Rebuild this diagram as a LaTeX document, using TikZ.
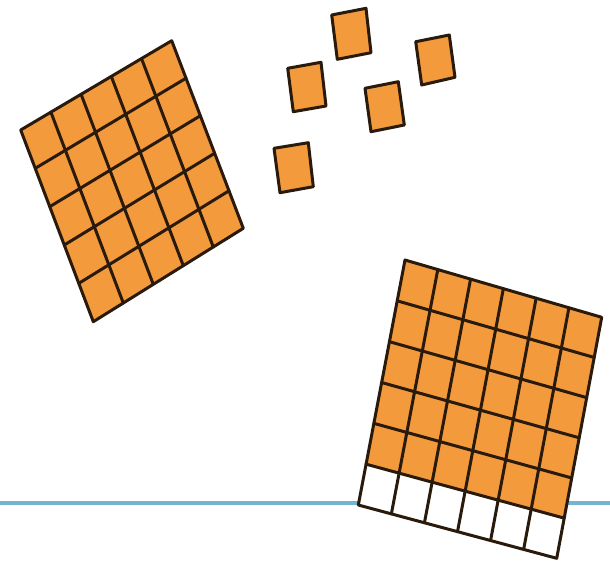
\documentclass[tikz,border=0pt]{standalone}
\usetikzlibrary{calc}
\definecolor{tileorange}{HTML}{F39A3D}
\definecolor{tileline}{HTML}{2A1A0C}
\definecolor{floorblue}{HTML}{74B4CF}
\tikzset{
  tile/.style={fill=tileorange, draw=tileline, line width=3pt, line join=round},
  gridline/.style={draw=tileline, line width=3pt, line cap=round},
  floor/.style={draw=floorblue, line width=3.5pt}
}
\begin{document}
\begin{tikzpicture}[x=1pt,y=-1pt]
\useasboundingbox (0,0) rectangle (610,565);
% floor line
\coordinate (fl) at (0,503);
\coordinate (fr) at (610,503);
\draw[floor] (fl) -- (fr);

% left 5x5 grid
\coordinate (A1) at (20.7,130);
\coordinate (A2) at (171.7,40.7);
\coordinate (A3) at (243.3,228.3);
\coordinate (A4) at (93.3,321.7);
\fill[tileorange] (A1) -- (A2) -- (A3) -- (A4) -- cycle;
\foreach \i in {1,...,4} {
  \draw[gridline] ($(A1)!\i/5!(A2)$) -- ($(A4)!\i/5!(A3)$);
  \draw[gridline] ($(A1)!\i/5!(A4)$) -- ($(A2)!\i/5!(A3)$);
}
\draw[tile, fill=none] (A1) -- (A2) -- (A3) -- (A4) -- cycle;

% small squares
\draw[tile] (331.7,15) -- (366,8.3) -- (371,52.7) -- (337.3,59.3) -- cycle;
\draw[tile] (415.7,41.7) -- (449.3,35) -- (455,77.3) -- (421.7,85) -- cycle;
\draw[tile] (287.7,68.3) -- (321,62.3) -- (326,106) -- (293.3,111.7) -- cycle;
\draw[tile] (365,88.3) -- (398.3,81.7) -- (404.3,125) -- (371,131.7) -- cycle;
\draw[tile] (274,148.3) -- (308.3,142.7) -- (313.3,186.7) -- (280,192.7) -- cycle;

% right 6x6 grid, bottom row white
\coordinate (B1) at (405,260);
\coordinate (B2) at (601.7,317.3);
\coordinate (B3) at (556.7,558.3);
\coordinate (B4) at (358.3,505);
\coordinate (B5) at ($(B1)!5/6!(B4)$);
\coordinate (B6) at ($(B2)!5/6!(B3)$);
\fill[white] (B5) -- (B6) -- (B3) -- (B4) -- cycle;
\fill[tileorange] (B1) -- (B2) -- (B6) -- (B5) -- cycle;
\foreach \i in {1,...,5} {
  \draw[gridline] ($(B1)!\i/6!(B2)$) -- ($(B4)!\i/6!(B3)$);
  \draw[gridline] ($(B1)!\i/6!(B4)$) -- ($(B2)!\i/6!(B3)$);
}
\draw[tile, fill=none] (B1) -- (B2) -- (B3) -- (B4) -- cycle;
\end{tikzpicture}
\end{document}
